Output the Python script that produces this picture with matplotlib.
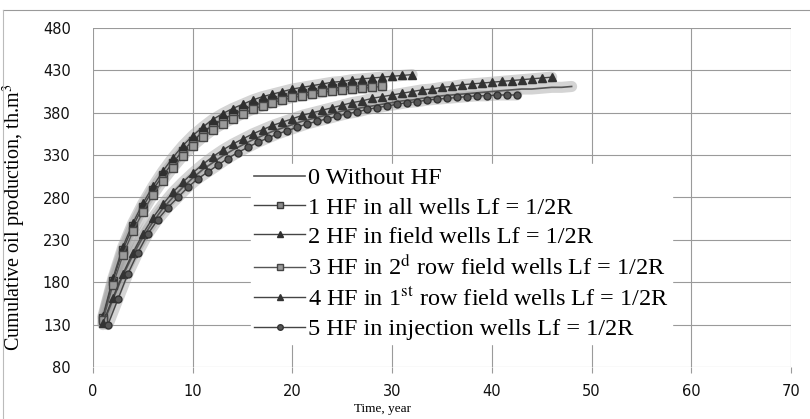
import matplotlib.pyplot as plt
from matplotlib.lines import Line2D

plt.rcParams['mathtext.fontset'] = 'stix'

# 0 Without HF
t0 = list(range(1, 49))
v0 = [130, 160, 188, 212, 233, 251, 267, 280, 292, 303, 313, 321, 329, 336, 342, 348,
      353, 358, 362, 366, 370, 373, 376, 379, 382, 384, 386, 388, 390, 392, 394, 395,
      397, 398, 400, 401, 402, 403, 404, 405, 406, 407, 408, 408, 409, 410, 410, 411]

# 1 HF in all wells
t1 = list(range(1, 29))
v1 = [138, 182, 218, 246, 269, 289, 306, 321, 335, 347, 357, 365, 372, 378, 383, 388,
      392, 395, 398, 401, 403, 405, 407, 409, 410, 411, 412, 413]

# 2 HF in field wells
t2 = list(range(1, 33))
v2 = [140, 185, 222, 250, 273, 293, 311, 327, 341, 353, 363, 372, 379, 385, 390, 395,
      399, 402, 405, 408, 410, 412, 414, 416, 417, 419, 420, 421, 422, 423, 424, 425]

# 3 HF in 2d row field wells
t3 = list(range(1, 30))
v3 = [135, 177, 212, 240, 263, 283, 300, 315, 329, 341, 351, 360, 367, 373, 379, 384,
      388, 392, 395, 398, 400, 402, 404, 406, 407, 408, 409, 410, 411]

# 4 HF in 1st row field wells
t4 = list(range(1, 47))
v4 = [132, 162, 190, 215, 237, 256, 272, 286, 298, 309, 319, 328, 336, 343, 349, 355,
      360, 365, 369, 373, 377, 380, 383, 386, 389, 392, 394, 397, 399, 401, 403, 405,
      407, 408, 410, 411, 413, 414, 415, 416, 417, 418, 419, 420, 421, 422]

# 5 HF in injection wells
t5 = [x + 0.5 for x in range(1, 43)]
v5 = [130, 160, 190, 215, 237, 254, 268, 280, 292, 302, 310, 318, 326, 333, 339, 345,
      350, 355, 359, 363, 367, 370, 373, 376, 379, 381, 384, 386, 388, 390, 392, 393,
      395, 396, 397, 398, 399, 400, 400, 401, 401, 401]

labels = ['0 Without HF',
          '1 HF in all wells Lf = 1/2R',
          '2 HF in field wells Lf = 1/2R',
          '3 HF in 2$^{\\mathrm{d}}$ row field wells Lf = 1/2R',
          '4 HF in 1$^{\\mathrm{st}}$ row field wells Lf = 1/2R',
          '5 HF in injection wells Lf = 1/2R']

x_ticks = [0, 10, 20, 30, 40, 50, 60, 70]
y_ticks = [80, 130, 180, 230, 280, 330, 380, 430, 480]

fig = plt.figure(figsize=(8.1, 4.19), dpi=100)
ax = fig.add_axes([93/810, 1-367/419, 698/810, 339/419])

series = [(t0, v0), (t1, v1), (t2, v2), (t3, v3), (t4, v4), (t5, v5)]
styles = [dict(marker=None, color='#555555', lw=1.2),
          dict(marker='s', ms=5.5, mfc='#8a8a8a', mec='#3a3a3a', color='#444444', lw=1),
          dict(marker='^', ms=6, mfc='#2f2f2f', mec='#2f2f2f', color='#444444', lw=1),
          dict(marker='s', ms=5.5, mfc='#9a9a9a', mec='#444444', color='#555555', lw=1),
          dict(marker='^', ms=6, mfc='#333333', mec='#333333', color='#444444', lw=1),
          dict(marker='o', ms=5, mfc='#555555', mec='#333333', color='#444444', lw=1)]

# soft grey halo around the curves like in the scan
for t, v in series:
    ax.plot(t, v, color='#a0a0a0', lw=8, alpha=0.45, solid_capstyle='round', zorder=2)

handles = []
draw_order = [0, 5, 4, 3, 1, 2]
for i in draw_order:
    t, v = series[i]
    ax.plot(t, v, zorder=3 + i, **styles[i])
for i in range(6):
    st = dict(styles[i])
    if 'ms' in st:
        st['ms'] = st['ms'] * 0.8
    handles.append(Line2D([], [], **st))

ax.set_xlim(0, 70)
ax.set_ylim(80, 480)
ax.set_xticks(x_ticks)
ax.set_yticks(y_ticks)
ax.grid(True, color='#9a9a9a', lw=0.8)
ax.set_axisbelow(True)
for s in ax.spines.values():
    s.set_visible(False)
ax.tick_params(axis='both', length=4, color='#9a9a9a', labelsize=10.5, colors='#111111')
ax.tick_params(axis='y', length=0, pad=16)
ax.tick_params(axis='x', pad=8)

ax.set_ylabel('Cumulative oil production, th.m$^3$', family='Liberation Serif', fontsize=14.5)
ax.yaxis.set_label_coords(-0.093, 0.44)
ax.set_xlabel('Time, year', family='Liberation Serif', fontsize=9.5)
ax.xaxis.set_label_coords(0.415, -0.105)

leg = ax.legend(handles, labels, loc='upper left', bbox_to_anchor=(0.226, 0.6),
                frameon=True, framealpha=1, edgecolor='white', fancybox=False,
                prop={'family': 'Liberation Serif', 'size': 17.5},
                handlelength=2.1, handletextpad=0.1, labelspacing=0.3,
                borderpad=0.15, borderaxespad=0)
leg.set_zorder(20)

# outer chart frame from the scan
fig.add_artist(Line2D([3/810, 1], [1-10/419, 1-10/419], color='#9a9a9a', lw=0.8))
fig.add_artist(Line2D([3/810, 3/810], [0, 1-10/419], color='#bbbbbb', lw=0.8))

fig.savefig('out.png', dpi=100)
